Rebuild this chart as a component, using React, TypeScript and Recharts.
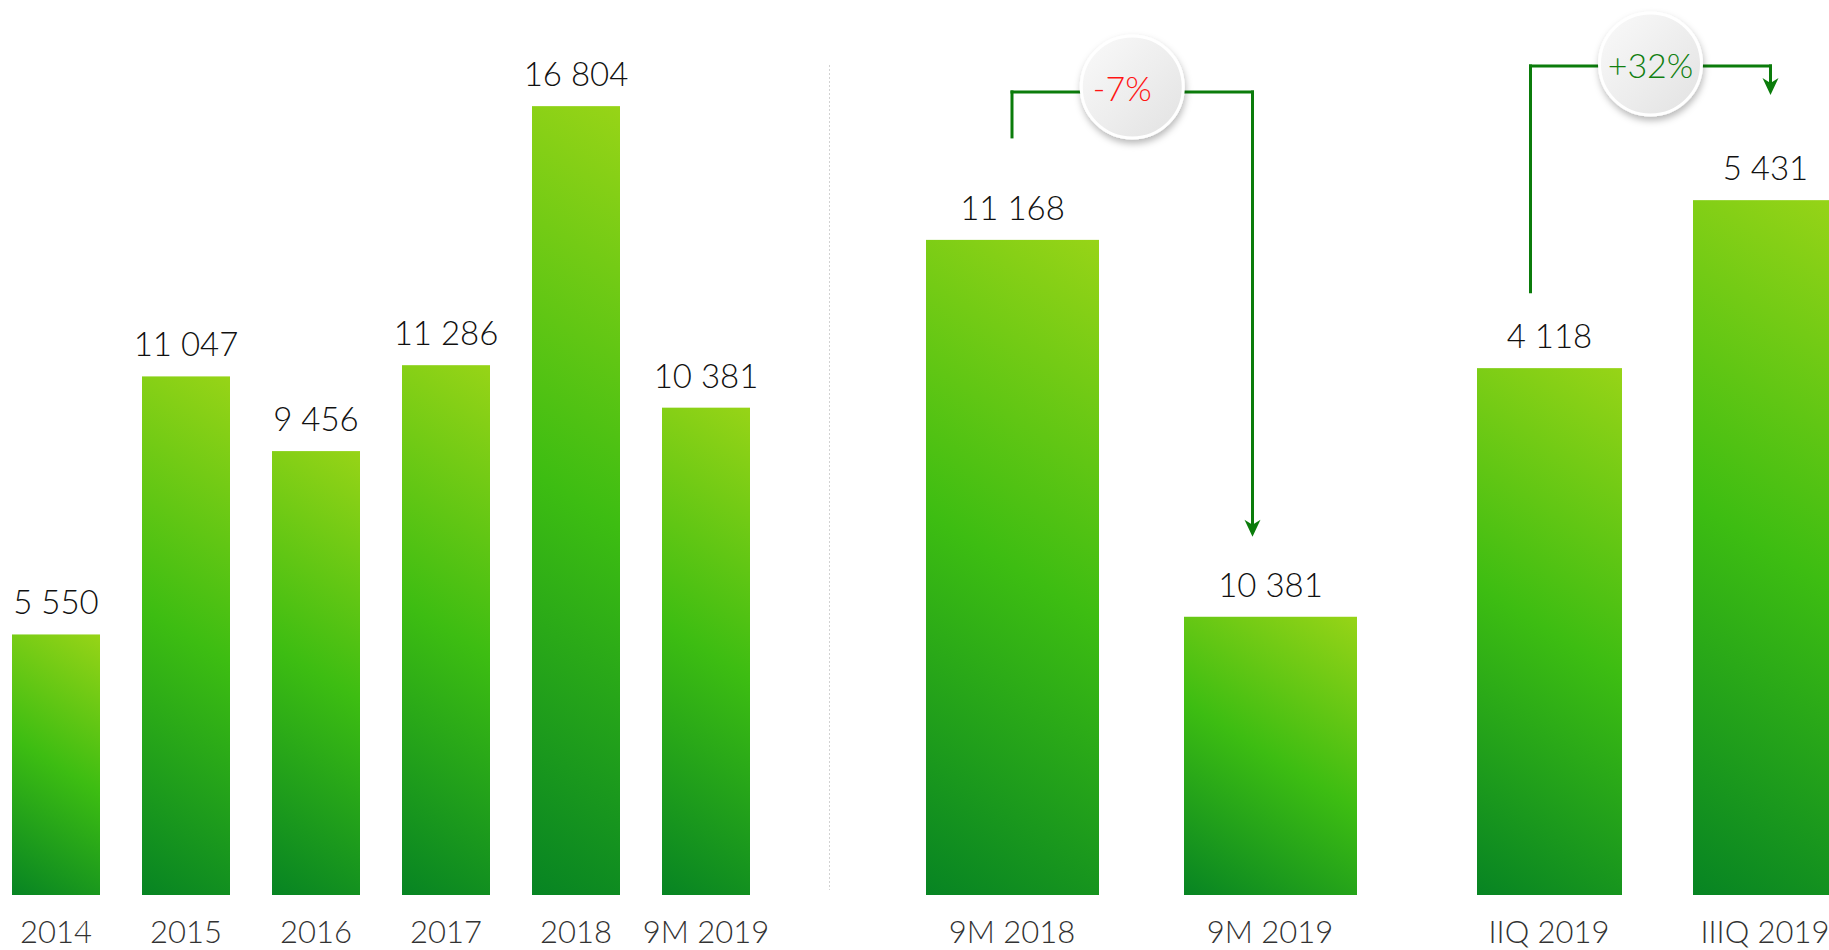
import { BarChart, Bar, XAxis, YAxis, LabelList, ReferenceLine } from 'recharts'

// annual totals
const yearCats = ['2014', '2015', '2016', '2017', '2018', '9M 2019']
const yearVals = [5550, 11047, 9456, 11286, 16804, 10381]

// 9 months comparison
const ninemCats = ['9M 2018', '9M 2019']
const ninemVals = [11168, 10381]

// quarters
const quarterCats = ['IIQ 2019', 'IIIQ 2019']
const quarterVals = [4118, 5431]

// change brackets, levels in each chart's own units
const ninemChange = { from: '9M 2018', to: '9M 2019', start: 11383, top: 11477, end: 10548, text: '-7%' }
const quarterChange = { from: 'IIQ 2019', to: 'IIIQ 2019', start: 4715, top: 6480, end: 6253, text: '+32%' }

const LINE = '#0b7c0b'
const FONT = 'Lato, "Open Sans", sans-serif'

const fmt = (v: number) => String(v).replace(/\B(?=(\d{3})+(?!\d))/g, ' ')

const toRows = (cats: string[], vals: number[]) => cats.map((name, i) => ({ name, value: vals[i] }))

function GradBar(props: any) {
  const { x, y, width, height, gid } = props
  if (!height || height <= 0) return null
  const a = (212 * Math.PI) / 180
  const dx = Math.sin(a)
  const dy = -Math.cos(a)
  const len = Math.abs(width * dx) + Math.abs(height * dy)
  const cx = x + width / 2
  const cy = y + height / 2
  const id = `${gid}-${Math.round(x)}`
  return (
    <g>
      <defs>
        <linearGradient id={id} gradientUnits="userSpaceOnUse"
          x1={cx - (dx * len) / 2} y1={cy - (dy * len) / 2} x2={cx + (dx * len) / 2} y2={cy + (dy * len) / 2}>
          <stop offset="0" stopColor="#97d417" />
          <stop offset="0.5" stopColor="#3dbd12" />
          <stop offset="1" stopColor="#078423" />
        </linearGradient>
      </defs>
      <rect x={x} y={y} width={width} height={height} fill={`url(#${id})`} />
    </g>
  )
}

const riser = (shift: number) => (p: any) => (
  <line x1={p.x1 + shift} y1={p.y1} x2={p.x2 + shift} y2={p.y2} stroke={LINE} strokeWidth={3} strokeLinecap="square" />
)

const arrowDown = (shift: number) => (p: any) => {
  const x = p.x1 + shift
  const tip = p.y2
  return (
    <g>
      <line x1={x} y1={p.y1} x2={x} y2={tip - 10} stroke={LINE} strokeWidth={3} strokeLinecap="square" />
      <path d={`M${x - 8},${tip - 17} L${x},${tip - 12} L${x + 8},${tip - 17} L${x},${tip} Z`} fill={LINE} />
    </g>
  )
}

const bubbleLine = (shiftFrom: number, shiftTo: number, text: string, color: string, lift: number, textShift: number, gid: string) => (p: any) => {
  const xa = p.x1 + shiftFrom
  const xb = p.x2 + shiftTo
  const y = p.y1
  const cx = (xa + xb) / 2
  const cy = y - lift
  return (
    <g>
      <defs>
        <linearGradient id={`${gid}-fill`} x1="0" y1="0" x2="1" y2="1">
          <stop offset="0" stopColor="#fafafa" />
          <stop offset="1" stopColor="#e2e2e2" />
        </linearGradient>
        <filter id={`${gid}-shadow`} x="-30%" y="-30%" width="160%" height="170%">
          <feDropShadow dx="1" dy="4" stdDeviation="3.5" floodColor="#000" floodOpacity="0.28" />
        </filter>
      </defs>
      <line x1={xa} y1={y} x2={xb} y2={y} stroke={LINE} strokeWidth={3} strokeLinecap="square" />
      <circle cx={cx} cy={cy} r={51} fill={`url(#${gid}-fill)`} stroke="#fff" strokeWidth={3} filter={`url(#${gid}-shadow)`} />
      <text x={cx + textShift} y={cy + 1} textAnchor="middle" dominantBaseline="central"
        fontSize={34} fontWeight={300} fontFamily={FONT} fill={color}>{text}</text>
    </g>
  )
}

const tickStyle = { fontSize: 31, fontWeight: 300, fill: '#333', fontFamily: FONT }
const labelStyle = { fontSize: 33, fontWeight: 300, fill: '#111', fontFamily: FONT }

function Group(props: { rows: any[]; width: number; top: number; domain: [number, number]; barSize: number; gid: string; children?: any }) {
  const { rows, width, top, domain, barSize, gid, children } = props
  return (
    <BarChart width={width} height={950} data={rows} margin={{ top, right: 0, bottom: 0, left: 0 }}>
      <XAxis dataKey="name" height={55} axisLine={false} tickLine={false} interval={0} tickMargin={20} tick={tickStyle} />
      <YAxis hide domain={domain} />
      <Bar dataKey="value" barSize={barSize} isAnimationActive={false} shape={(p: any) => <GradBar {...p} gid={gid} />}>
        <LabelList dataKey="value" position="top" offset={20} formatter={(v: any) => fmt(Number(v))} style={labelStyle} />
      </Bar>
      {children}
    </BarChart>
  )
}

export default function App() {
  const c1 = ninemChange
  const c2 = quarterChange
  return (
    <div style={{ position: 'absolute', left: 0, top: 0, width: 1829, height: 950, overflow: 'hidden', background: '#fff', fontFamily: FONT }}>
      <div style={{ position: 'absolute', left: -9, top: 0 }}>
        <Group rows={toRows(yearCats, yearVals)} width={780} top={50} domain={[0, 18000]} barSize={88} gid="yr" />
      </div>
      <svg style={{ position: 'absolute', left: 828, top: 65 }} width={3} height={825}>
        <line x1={1.5} y1={0} x2={1.5} y2={825} stroke="#d2d2d2" strokeWidth={1} strokeDasharray="2 2" />
      </svg>
      <div style={{ position: 'absolute', left: 882.5, top: 0 }}>
        <Group rows={toRows(ninemCats, ninemVals)} width={516} top={33} domain={[9800, 11600]} barSize={173} gid="nm">
          <ReferenceLine ifOverflow="visible" segment={[{ x: c1.from, y: c1.start }, { x: c1.from, y: c1.top }]} shape={riser(0)} />
          <ReferenceLine ifOverflow="visible" segment={[{ x: c1.to, y: c1.top }, { x: c1.to, y: c1.end }]} shape={arrowDown(-17.5)} />
          <ReferenceLine ifOverflow="visible" segment={[{ x: c1.from, y: c1.top }, { x: c1.to, y: c1.top }]}
            shape={bubbleLine(0, -17.5, c1.text, '#ff1414', 5, -10, 'b1')} />
        </Group>
      </div>
      <div style={{ position: 'absolute', left: 1440.5, top: 0 }}>
        <Group rows={toRows(quarterCats, quarterVals)} width={432} top={25} domain={[0, 6800]} barSize={145} gid="qt">
          <ReferenceLine ifOverflow="visible" segment={[{ x: c2.from, y: c2.start }, { x: c2.from, y: c2.top }]} shape={riser(-18.5)} />
          <ReferenceLine ifOverflow="visible" segment={[{ x: c2.to, y: c2.top }, { x: c2.to, y: c2.end }]} shape={arrowDown(5.5)} />
          <ReferenceLine ifOverflow="visible" segment={[{ x: c2.from, y: c2.top }, { x: c2.to, y: c2.top }]}
            shape={bubbleLine(-18.5, 5.5, c2.text, '#117f11', 2, 0, 'b2')} />
        </Group>
      </div>
    </div>
  )
}
